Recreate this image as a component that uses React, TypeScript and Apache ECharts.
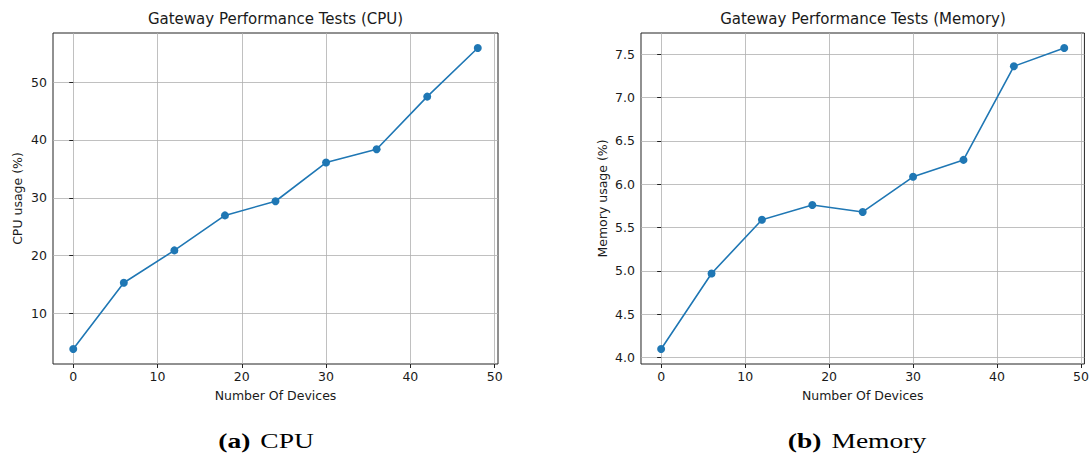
import React, { useEffect, useRef } from "react";
import * as echarts from "echarts";

const devices = [0, 6, 12, 18, 24, 30, 36, 42, 48];
const cpuUsage = [3.85, 15.3, 20.9, 26.95, 29.4, 36.1, 38.4, 47.5, 55.9];
const memoryUsage = [4.1, 4.97, 5.59, 5.76, 5.68, 6.085, 6.28, 7.36, 7.57];
const xTicks = [0, 10, 20, 30, 40, 50];
const cpuTicks = [10, 20, 30, 40, 50];
const memTicks = [4.0, 4.5, 5.0, 5.5, 6.0, 6.5, 7.0, 7.5];

const titles = ["Gateway Performance Tests (CPU)", "Gateway Performance Tests (Memory)"];
const yNames = ["CPU usage (%)", "Memory usage (%)"];
const xName = "Number Of Devices";
const captions = [
  { tag: "(a)", text: "CPU" },
  { tag: "(b)", text: "Memory" },
];

function padRange(vals: number[]) {
  const lo = Math.min(...vals);
  const hi = Math.max(...vals);
  const m = (hi - lo) * 0.05;
  return [lo - m, hi + m];
}

const BLUE = "#1f77b4";
const FONT = "DejaVu Sans";
const TXT = "#1a1a1a";

export default function App() {
  const ref = useRef<HTMLDivElement>(null);
  useEffect(() => {
    if (!ref.current) return;
    const chart = echarts.init(ref.current, null, { renderer: "svg" });
    const xr = padRange(devices);
    const yr = [padRange(cpuUsage), padRange(memoryUsage)];
    const grids = [
      { left: 53, top: 33, width: 445, height: 331 },
      { left: 641, top: 33, width: 444, height: 331 },
    ];
    const yTickSets = [cpuTicks, memTicks];
    const yFmt = [(v: number) => String(Math.round(v)), (v: number) => v.toFixed(1)];
    const yNameGaps = [29, 32];

    const option: any = {
      animation: false,
      backgroundColor: "#fff",
      title: titles.map((t, i) => ({
        text: t,
        left: grids[i].left + grids[i].width / 2,
        top: 11,
        textAlign: "center",
        padding: 0,
        textStyle: { fontFamily: FONT, fontSize: 15, fontWeight: "normal", color: TXT },
      })),
      grid: grids.map((g) => ({
        ...g,
        show: true,
        borderColor: "#222",
        borderWidth: 1,
        backgroundColor: "transparent",
        containLabel: false,
      })),
      xAxis: grids.map((_, i) => ({
        type: "value",
        gridIndex: i,
        min: xr[0],
        max: xr[1],
        name: xName,
        nameLocation: "middle",
        nameGap: 25,
        nameTextStyle: { fontFamily: FONT, fontSize: 12.5, color: TXT },
        axisLine: { show: false },
        axisTick: {
          show: true,
          length: 4,
          customValues: xTicks,
          lineStyle: { color: "#222", width: 1 },
        },
        axisLabel: {
          customValues: xTicks,
          margin: 6,
          fontFamily: FONT,
          fontSize: 12.5,
          color: TXT,
          formatter: (v: number) => String(Math.round(v)),
        },
        splitLine: { show: true, lineStyle: { color: "#b0b0b0", width: 0.8 } },
      })),
      yAxis: grids.map((_, i) => ({
        type: "value",
        gridIndex: i,
        min: yr[i][0],
        max: yr[i][1],
        name: yNames[i],
        nameLocation: "middle",
        nameRotate: 90,
        nameGap: yNameGaps[i],
        nameTextStyle: { fontFamily: FONT, fontSize: 12.5, color: TXT },
        axisLine: { show: false },
        axisTick: {
          show: true,
          length: 4,
          customValues: yTickSets[i],
          lineStyle: { color: "#222", width: 1 },
        },
        axisLabel: {
          customValues: yTickSets[i],
          margin: 6,
          fontFamily: FONT,
          fontSize: 12.5,
          color: TXT,
          formatter: yFmt[i],
        },
        splitLine: { show: true, lineStyle: { color: "#b0b0b0", width: 0.8 } },
      })),
      series: [cpuUsage, memoryUsage].map((vals, i) => ({
        type: "line",
        xAxisIndex: i,
        yAxisIndex: i,
        data: devices.map((d, j) => [d, vals[j]]),
        symbol: "circle",
        symbolSize: 8,
        showSymbol: true,
        lineStyle: { color: BLUE, width: 1.6 },
        itemStyle: { color: BLUE },
        z: 3,
      })),
      graphic: captions.map((c, i) => ({
        type: "text",
        x: i === 0 ? 266 : 857,
        y: 440,
        scaleX: 1.25,
        style: {
          text: `{b|${c.tag}}{s| }{n|${c.text}}`,
          align: "center",
          verticalAlign: "middle",
          fill: "#000",
          rich: {
            b: { fontFamily: "Liberation Serif", fontSize: 22, fontWeight: "bold", fill: "#000" },
            s: { fontFamily: "Liberation Serif", fontSize: 22, width: 8 },
            n: { fontFamily: "Liberation Serif", fontSize: 22, fill: "#000" },
          },
        },
      })),
    };
    chart.setOption(option);
    return () => chart.dispose();
  }, []);
  return (
    <div
      ref={ref}
      style={{ position: "absolute", left: 0, top: 0, width: 1092, height: 455, background: "#fff" }}
    />
  );
}
